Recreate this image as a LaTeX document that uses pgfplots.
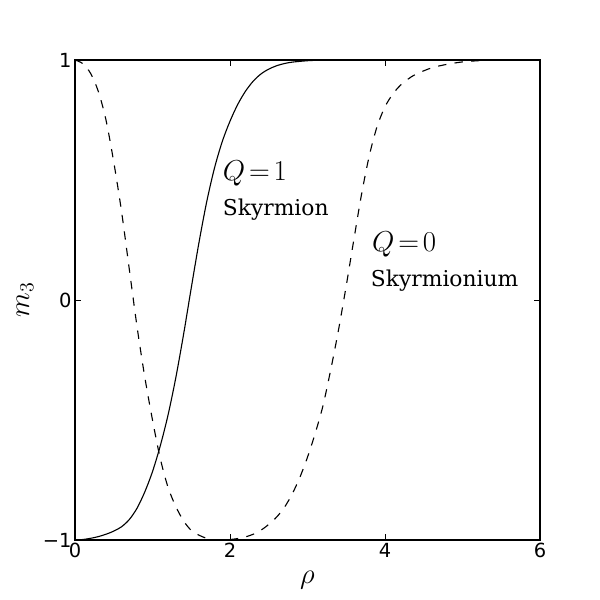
\documentclass[border=0pt]{standalone}
\usepackage{pgfplots}
\pgfplotsset{compat=1.18}
\usepackage{fontspec}
\setmainfont{DejaVu Serif}
\newfontfamily\dvs{DejaVu Sans}
\begin{document}
\begin{tikzpicture}
\useasboundingbox (-54pt,-43.2pt) rectangle (378pt,388.8pt);
\begin{axis}[
  at={(0,0)}, anchor=south west,
  width=334.8pt, height=345.6pt, scale only axis,
  xmin=0, xmax=6, ymin=-1, ymax=1,
  xtick={0,2,4,6}, xticklabels={0,2,4,6},
  ytick={-1,0,1}, yticklabels={−1,0,1},
  tick align=inside, major tick length=4pt,
  tick style={black, line width=0.6pt},
  axis line style={line width=0.8pt},
  minor tick num=0,
  tick label style={font=\dvs\fontsize{14}{14}\selectfont},
  xticklabel style={yshift=1pt},
  yticklabel style={xshift=1pt},
  xlabel={$\rho$}, ylabel={$m_3$},
  label style={font=\fontsize{20}{20}\selectfont},
  xlabel style={at={(axis description cs:0.5,-0.0833)}, anchor=center},
  ylabel style={at={(axis description cs:-0.1075,0.5)}, anchor=center, rotate=0},
  clip=false,
]
\addplot[black, line width=0.8pt, smooth] coordinates {
(0,-1) (0.1,-0.998) (0.2,-0.993) (0.3,-0.986) (0.4,-0.976) (0.5,-0.963)
(0.6,-0.945) (0.7,-0.915) (0.8,-0.868) (0.9,-0.80) (1.0,-0.715) (1.1,-0.608)
(1.2,-0.48) (1.3,-0.325) (1.4,-0.145) (1.5,0.05) (1.6,0.24) (1.7,0.41)
(1.8,0.55) (1.9,0.66) (2.0,0.745) (2.1,0.815) (2.2,0.87) (2.3,0.912)
(2.4,0.942) (2.5,0.962) (2.6,0.976) (2.7,0.985) (2.8,0.991) (3.0,0.997)
(3.2,0.9995) (3.5,1) (6,1)
};
\addplot[black, line width=0.8pt, dash pattern=on 6pt off 6pt, smooth] coordinates {
(0,1) (0.1,0.985) (0.2,0.945) (0.3,0.87) (0.4,0.75) (0.5,0.575)
(0.6,0.37) (0.7,0.13) (0.8,-0.11) (0.9,-0.32) (1.0,-0.50) (1.1,-0.66)
(1.2,-0.78) (1.3,-0.86) (1.4,-0.92) (1.5,-0.96) (1.6,-0.98) (1.7,-0.993)
(1.8,-0.999) (1.9,-1) (2.0,-0.998) (2.1,-0.994) (2.2,-0.987) (2.3,-0.976)
(2.4,-0.959) (2.5,-0.935) (2.6,-0.905) (2.7,-0.865) (2.8,-0.81) (2.9,-0.74)
(3.0,-0.655) (3.1,-0.555) (3.2,-0.44) (3.3,-0.29) (3.4,-0.125) (3.5,0.06)
(3.6,0.255) (3.7,0.445) (3.8,0.605) (3.9,0.725) (4.0,0.805) (4.1,0.858)
(4.2,0.895) (4.3,0.921) (4.4,0.941) (4.6,0.967) (4.8,0.982) (5.0,0.992)
(5.2,0.997) (5.4,1) (6.0,1)
};
\node[anchor=base west, inner sep=0pt, font=\fontsize{20}{20}\selectfont] at (axis cs:1.905,0.5) {$Q\mkern-2.6mu=\mkern-2.6mu1$};
\node[anchor=base west, inner sep=0pt, font=\fontsize{15.7}{15.7}\selectfont] at (axis cs:1.905,0.354) {Skyrmion};
\node[anchor=base west, inner sep=0pt, font=\fontsize{20}{20}\selectfont] at (axis cs:3.83,0.201) {$Q\mkern-2.6mu=\mkern-2.6mu0$};
\node[anchor=base west, inner sep=0pt, font=\fontsize{15.7}{15.7}\selectfont] at (axis cs:3.815,0.055) {Skyrmionium};
\end{axis}
\end{tikzpicture}
\end{document}
